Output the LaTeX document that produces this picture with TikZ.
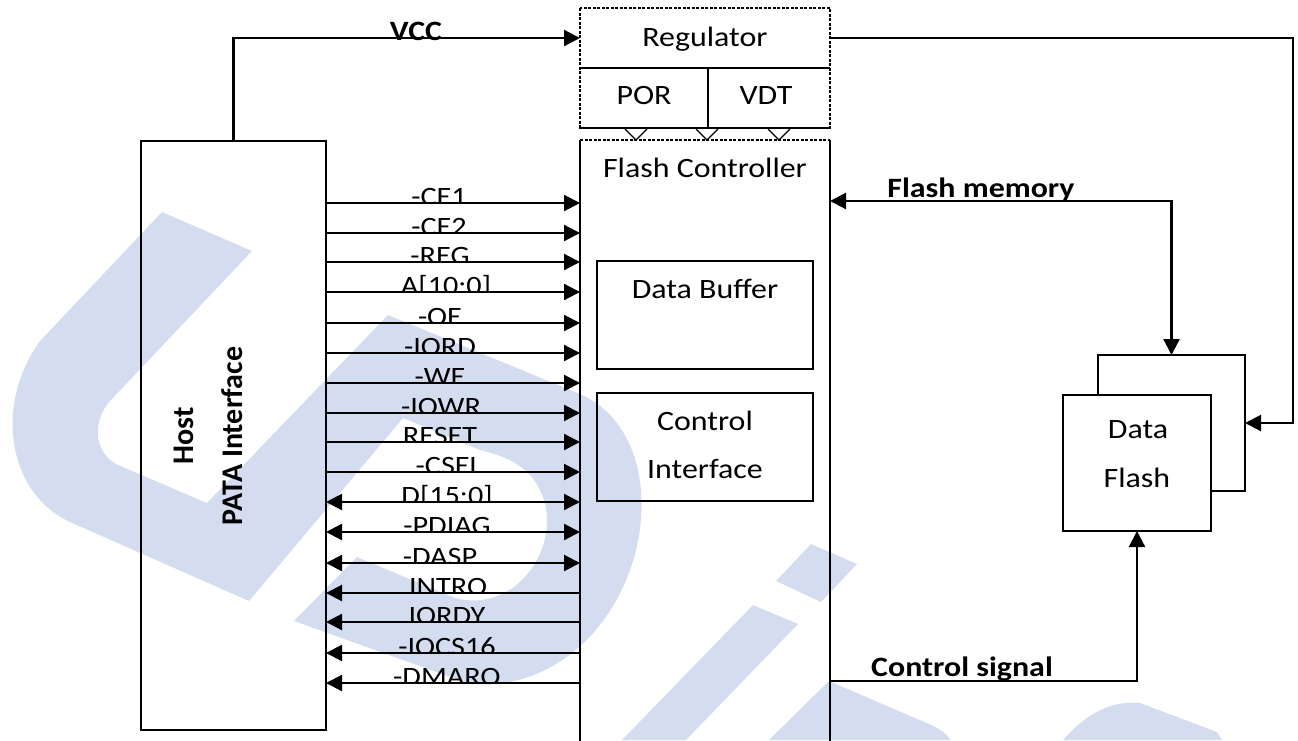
\documentclass[tikz,border=0pt]{standalone}
\usepackage{graphicx}
\usepackage{fontspec}
\setmainfont{Carlito}
\usetikzlibrary{arrows.meta}
\definecolor{wmblue}{RGB}{212,221,240}
\newcommand\sigf{\fontsize{26.5}{32}\selectfont}
\newcommand\boxf{\fontsize{28}{34}\selectfont}
\newcommand\boldf{\fontsize{28}{34}\selectfont\bfseries}
\newcommand\hostf{\fontsize{30}{36}\selectfont\bfseries}
\newcommand\wide[1]{\scalebox{1.14}[1]{#1}}
\begin{document}
\begin{tikzpicture}[x=1pt,y=-1pt,
  >={Triangle[length=16pt,width=16pt]},
  every node/.style={inner sep=0pt,outer sep=0pt},
  txt/.style={anchor=base,font=\boxf},
  blbl/.style={anchor=base,font=\boldf},
  slbl/.style={anchor=base,font=\sigf},
  frame/.style={draw,line width=2.2pt},
  thinbox/.style={draw,line width=1.7pt},
  conn/.style={line width=2.2pt},
  dots/.style={line width=2.2pt,dash pattern=on 3pt off 1.5pt}]
\useasboundingbox (0,0) rectangle (1298,740);
\clip (0,0) rectangle (1298,740);
% watermark
\fill[wmblue] (162,212) -- (252,251) -- (110,401) .. controls (93,420) and (92,452) .. (118,465) -- (207,503) -- (388,315) -- (580,394) .. controls (640,420) and (655,500) .. (630,570) .. controls (605,640) and (545,690) .. (470,684) -- (294,621) -- (357,557) -- (455,598) .. controls (520,615) and (565,540) .. (540,490) .. controls (528,465) and (505,456) .. (480,450) -- (403,418) -- (249,601) -- (70,522) .. controls (5,492) and (-5,400) .. (41,340) -- cycle;
\fill[wmblue] (776,581) -- (811,544) -- (857,564) -- (821,602) -- cycle;
\fill[wmblue] (753,605) -- (798,624) -- (686,740) -- (622,740) -- cycle;
\fill[wmblue] (769,740) -- (829,681) -- (915,718) .. controls (940,728) and (948,734) .. (950,740) -- cycle;
\fill[wmblue] (1063,740) .. controls (1085,715) and (1110,700) .. (1140,703) -- (1217,732) -- (1222,740) -- cycle;
% host
\node[frame, minimum width=185pt, minimum height=589pt, anchor=north west] (host) at (141,141) {};
\node[rotate=90, anchor=base, font=\hostf] (hosttxt) at (193,436) {Host};
\node[rotate=90, anchor=base, font=\hostf] (patatxt) at (242,436) {PATA Interface};
% flash controller
\node[minimum width=250pt, minimum height=640pt, anchor=north west] (fc) at (580,140) {};
\draw[line width=2pt] (fc.north west) -- (fc.south west) (fc.north east) -- (fc.south east);
\draw[dots] (fc.north west) -- (fc.north east);
\node[txt] (fctxt) at (705,177) {\wide{Flash Controller}};
% regulator
\node[minimum width=250pt, minimum height=60pt, anchor=north west] (reg) at (580,8) {};
\node[txt] (regtxt) at (705,46) {\wide{Regulator}};
\node[minimum width=128pt, minimum height=60pt, anchor=north west] (por) at (580,68) {};
\node[txt] (portxt) at (644,104) {\wide{POR}};
\node[minimum width=122pt, minimum height=60pt, anchor=north west] (vdt) at (708,68) {};
\node[txt] (vdttxt) at (766,104) {\wide{VDT}};
\draw[dots] (reg.north west) rectangle (vdt.south east);
\draw[line width=2pt] (reg.south west) -- (reg.south east) (por.north east) -- (por.south east) (por.south west) -- (vdt.south east);
\foreach \vx in {636,707,779} \draw[line width=1.3pt] (\vx-11,129) -- (\vx,140) -- (\vx+11,129);
% inner blocks
\node[thinbox, minimum width=216pt, minimum height=108pt, anchor=north west] (dbuf) at (597,261) {};
\node[txt] (dbuftxt) at (705,298) {\wide{Data Buffer}};
\node[thinbox, minimum width=216pt, minimum height=108pt, anchor=north west] (ctrl) at (597,393) {};
\node[txt] (ctrl1) at (705,430) {\wide{Control}};
\node[txt] (ctrl2) at (705,478) {\wide{Interface}};
% data flash
\node[thinbox, minimum width=147pt, minimum height=136pt, anchor=north west] (dfb) at (1098,355) {};
\node[thinbox, fill=white, minimum width=148pt, minimum height=136pt, anchor=north west] (dff) at (1063,395) {};
\node[txt] (df1) at (1138,438) {\wide{Data}};
\node[txt] (df2) at (1137,487) {\wide{Flash}};
% connectors
\draw[conn,->] (host.north) |- (reg.west);
\node[blbl] (vcc) at (416,40) {\wide{VCC}};
\coordinate (rc) at (1293,38);
\draw[conn,->] (reg.east) -- (rc) |- (dfb.east);
\draw[conn,<->] (fc.east |- 0,201) -| (dfb.north);
\node[blbl] (fmtxt) at (981,197) {\wide{Flash memory}};
\draw[conn,->] (fc.east |- 0,681) -| (dff.south);
\node[blbl] (cstxt) at (962,676) {\wide{Control signal}};
% signals
\foreach \yy/\xx/\lab [count=\i] in {203/439/-CE1, 233/439/-CE2, 262/440/-REG, 292/446/A[10:0], 323/440/-OE, 353/440/-IORD, 383/440/-WE, 413/441/-IOWR, 442/440/RESET, 472/449/-CSEL, 502/447/D[15:0], 532/447/-PDIAG, 563/440/-DASP, 593/448/INTRO, 622/447/IORDY, 653/447/-IOCS16, 683/447/-DMARQ}
{
  \begin{scope}
    \clip (330,\yy-40) rectangle (576,\yy);
    \node[slbl] (sig\i) at (\xx,\yy+2) {\wide{\lab}};
  \end{scope}
}
\foreach \yy in {203,233,262,292,323,353,383,413,442,472}
  \draw[conn,->] (host.east |- 0,\yy) -- (fc.west |- 0,\yy);
\foreach \yy in {502,532,563}
  \draw[conn,<->] (host.east |- 0,\yy) -- (fc.west |- 0,\yy);
\foreach \yy in {593,622,653,683}
  \draw[conn,<-] (host.east |- 0,\yy) -- (fc.west |- 0,\yy);
\end{tikzpicture}
\end{document}
